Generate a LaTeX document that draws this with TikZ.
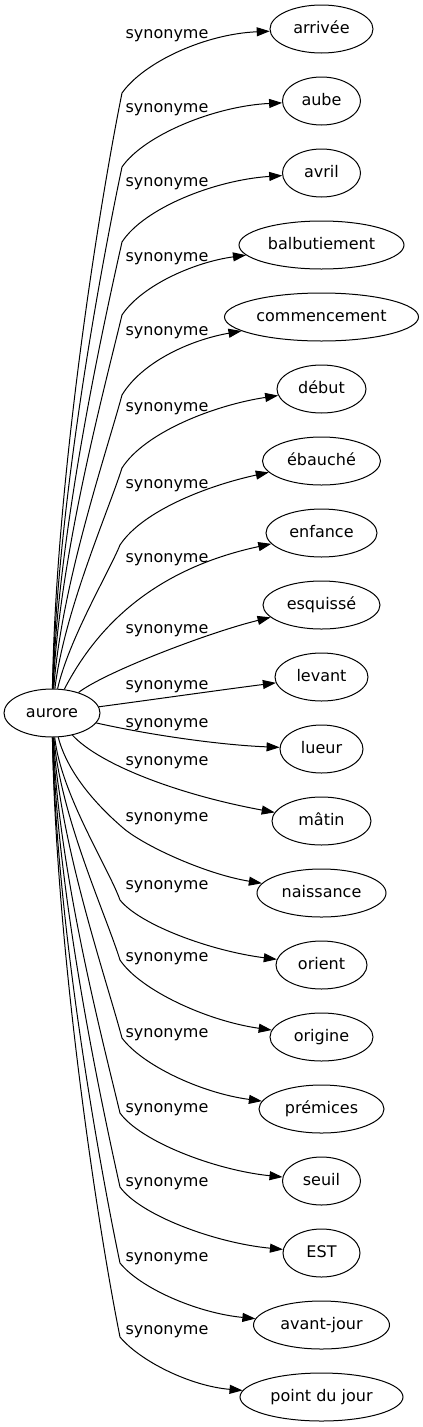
\documentclass[tikz,border=0pt]{standalone}
\usepackage{fontspec}
\setmainfont{DejaVu Sans}
\usetikzlibrary{shapes.geometric,arrows.meta}
\begin{document}
\begin{tikzpicture}[x=1pt,y=-1pt,
  tnode/.style={draw,ellipse,line width=1pt,inner sep=0pt,minimum height=48pt,font=\fontsize{16pt}{18pt}\selectfont,text height=11.5pt,text depth=3.5pt},
  lab/.style={anchor=base,inner sep=0pt,font=\fontsize{16pt}{18pt}\selectfont},
  edge/.style={line width=1pt,-{Triangle[length=13pt,width=9pt]}}]
\useasboundingbox (0,0) rectangle (423,1427);
\node[tnode,minimum width=96pt] (aurore) at (52,713) {aurore};
\node[tnode,minimum width=103pt] (arrivee) at (321.5,29) {arrivée};
\node[tnode,minimum width=78pt] (aube) at (321.5,101) {aube};
\node[tnode,minimum width=78pt] (avril) at (321.5,173) {avril};
\node[tnode,minimum width=165pt] (balbutiement) at (321.5,245) {balbutiement};
\node[tnode,minimum width=194pt] (commencement) at (321.5,317) {commencement};
\node[tnode,minimum width=89pt] (debut) at (321.5,389) {début};
\node[tnode,minimum width=118pt] (ebauche) at (321.5,461) {ébauché};
\node[tnode,minimum width=111pt] (enfance) at (321.5,533) {enfance};
\node[tnode,minimum width=117pt] (esquisse) at (321.5,605) {esquissé};
\node[tnode,minimum width=93pt] (levant) at (321.5,677) {levant};
\node[tnode,minimum width=83pt] (lueur) at (321.5,749) {lueur};
\node[tnode,minimum width=99pt] (matin) at (321.5,821) {mâtin};
\node[tnode,minimum width=129pt] (naissance) at (321.5,893) {naissance};
\node[tnode,minimum width=91pt] (orient) at (321.5,965) {orient};
\node[tnode,minimum width=103pt] (origine) at (321.5,1037) {origine};
\node[tnode,minimum width=125pt] (premices) at (321.5,1109) {prémices};
\node[tnode,minimum width=78pt] (seuil) at (321.5,1181) {seuil};
\node[tnode,minimum width=77pt] (est) at (321.5,1253) {EST};
\node[tnode,minimum width=136pt] (avantjour) at (321.5,1325) {avant-jour};
\node[tnode,minimum width=163pt] (pointdujour) at (321.5,1397) {point du jour};
% labels
\node[lab] (l1) at (167,38) {synonyme};
\node[lab] (l2) at (167,112) {synonyme};
\node[lab] (l3) at (167,186) {synonyme};
\node[lab] (l4) at (167,261) {synonyme};
\node[lab] (l5) at (167,335) {synonyme};
\node[lab] (l6) at (167,411) {synonyme};
\node[lab] (l7) at (167,488) {synonyme};
\node[lab] (l8) at (167,562) {synonyme};
\node[lab] (l9) at (167,633) {synonyme};
\node[lab] (l10) at (167,689) {synonyme};
\node[lab] (l11) at (167,727) {synonyme};
\node[lab] (l12) at (167,765) {synonyme};
\node[lab] (l13) at (167,821) {synonyme};
\node[lab] (l14) at (167,889) {synonyme};
\node[lab] (l15) at (167,961) {synonyme};
\node[lab] (l16) at (167,1037) {synonyme};
\node[lab] (l17) at (167,1112) {synonyme};
\node[lab] (l18) at (167,1186) {synonyme};
\node[lab] (l19) at (167,1261) {synonyme};
\node[lab] (l20) at (167,1334) {synonyme};
% edges
\draw[edge] (aurore) .. controls (56,480) and (98,212) .. (122,93) .. controls (144,62) and (205,34) .. (arrivee);
\draw[edge] (aurore) .. controls (57,506) and (100,271) .. (122,167) .. controls (144,135) and (215,106) .. (aube);
\draw[edge] (aurore) .. controls (58,533) and (102,331) .. (122,242) .. controls (144,208) and (215,180) .. (avril);
\draw[edge] (aurore) .. controls (59,558) and (104,390) .. (122,315) .. controls (142,285) and (195,262) .. (balbutiement);
\draw[edge] (aurore) .. controls (61,586) and (106,454) .. (122,395) .. controls (142,362) and (190,340) .. (commencement);
\draw[edge] (aurore) .. controls (64,612) and (108,512) .. (122,468) .. controls (145,432) and (215,405) .. (debut);
\draw[edge] (aurore) .. controls (69,639) and (108,574) .. (120,545) .. controls (143,510) and (210,485) .. (ebauche);
\draw[edge] (aurore) .. controls (95,630) and (150,570) .. (enfance);
\draw[edge] (aurore) .. controls (105,672) and (210,632) .. (esquisse);
\draw[edge] (aurore) .. controls (150,700) and (220,690) .. (levant);
\draw[edge] (aurore) .. controls (150,735) and (220,745) .. (lueur);
\draw[edge] (aurore) .. controls (100,765) and (180,795) .. (matin);
\draw[edge] (aurore) .. controls (68,775) and (100,808) .. (122,827) .. controls (142,845) and (205,874) .. (naissance);
\draw[edge] (aurore) .. controls (61,794) and (108,867) .. (120,900) .. controls (140,925) and (211,951) .. (orient);
\draw[edge] (aurore) .. controls (60,815) and (106,915) .. (120,960) .. controls (140,990) and (207,1021) .. (origine);
\draw[edge] (aurore) .. controls (59,842) and (106,978) .. (122,1038) .. controls (142,1065) and (201,1093) .. (premices);
\draw[edge] (aurore) .. controls (58,869) and (102,1038) .. (120,1113) .. controls (140,1141) and (214,1170) .. (seuil);
\draw[edge] (aurore) .. controls (57,894) and (100,1097) .. (120,1187) .. controls (140,1215) and (215,1243) .. (est);
\draw[edge] (aurore) .. controls (56,921) and (98,1158) .. (120,1263) .. controls (140,1288) and (197,1313) .. (avantjour);
\draw[edge] (aurore) .. controls (56,947) and (96,1217) .. (120,1337) .. controls (140,1361) and (190,1386) .. (pointdujour);
\end{tikzpicture}
\end{document}
